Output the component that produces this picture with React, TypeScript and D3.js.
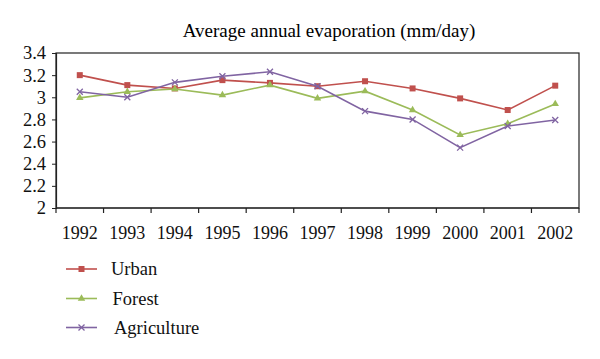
import * as d3 from 'd3';
import React, { useRef, useEffect } from 'react';

const years = ['1992', '1993', '1994', '1995', '1996', '1997', '1998', '1999', '2000', '2001', '2002'];
const urban = [3.2, 3.11, 3.08, 3.155, 3.13, 3.1, 3.145, 3.08, 2.99, 2.885, 3.105];
const forest = [2.995, 3.05, 3.075, 3.02, 3.11, 2.99, 3.055, 2.885, 2.66, 2.76, 2.94];
const agriculture = [3.05, 3.0, 3.135, 3.19, 3.23, 3.1, 2.875, 2.8, 2.545, 2.74, 2.795];
const yTicks = [2, 2.2, 2.4, 2.6, 2.8, 3, 3.2, 3.4];
const seriesNames = ['Urban', 'Forest', 'Agriculture'];

const font = '"Liberation Serif", "DejaVu Serif", serif';

function App() {
  const ref = useRef<SVGSVGElement>(null);

  useEffect(() => {
    const width = 600;
    const height = 359;
    const margin = { top: 53, right: 21, bottom: 151, left: 56 };

    const svg = d3.select(ref.current);
    svg.selectAll('*').remove();

    const series = [
      { name: seriesNames[0], values: urban, color: '#c0504d', marker: 'square' },
      { name: seriesNames[1], values: forest, color: '#9bbb59', marker: 'triangle' },
      { name: seriesNames[2], values: agriculture, color: '#8064a2', marker: 'cross' },
    ];

    const x = d3.scaleBand().domain(years).range([margin.left, width - margin.right]);
    const y = d3.scaleLinear().domain([2, 3.4]).range([height - margin.bottom, margin.top]);

    svg.append('rect').attr('width', width).attr('height', height).attr('fill', '#fff');

    // title
    svg.append('text')
      .attr('x', 329).attr('y', 37)
      .attr('text-anchor', 'middle')
      .attr('font-family', font).attr('font-size', 19)
      .text('Average annual evaporation (mm/day)');

    // plot box
    svg.append('rect')
      .attr('x', margin.left).attr('y', margin.top)
      .attr('width', width - margin.left - margin.right)
      .attr('height', height - margin.top - margin.bottom)
      .attr('fill', 'none').attr('stroke', '#222').attr('stroke-width', 1.2);

    // y axis
    const ya = svg.append('g').attr('transform', `translate(${margin.left},0)`)
      .call(d3.axisLeft(y).tickValues(yTicks).tickSize(4).tickPadding(6).tickFormat(d3.format('')));
    ya.select('.domain').attr('stroke', '#222').attr('stroke-width', 1.2);
    ya.selectAll('line').attr('stroke', '#222');
    ya.selectAll('text').attr('font-family', font).attr('font-size', 18.5).attr('fill', '#111');

    // x axis: ticks at category boundaries
    const xa = svg.append('g').attr('transform', `translate(0,${height - margin.bottom})`);
    xa.append('line')
      .attr('x1', margin.left).attr('x2', width - margin.right)
      .attr('stroke', '#222').attr('stroke-width', 1.2);
    const bounds = years.map(d => x(d)!).concat([width - margin.right]);
    xa.selectAll('line.tk').data(bounds).enter().append('line')
      .attr('class', 'tk')
      .attr('x1', d => d).attr('x2', d => d)
      .attr('y1', 0).attr('y2', 5)
      .attr('stroke', '#222').attr('stroke-width', 1.2);
    xa.selectAll('text').data(years).enter().append('text')
      .attr('x', d => x(d)! + x.bandwidth() / 2)
      .attr('y', 31)
      .attr('text-anchor', 'middle')
      .attr('font-family', font).attr('font-size', 18).attr('fill', '#111')
      .text(d => d);

    const cx = (i: number) => x(years[i])! + x.bandwidth() / 2;

    const drawMarker = (g: any, kind: string, px: number, py: number, color: string) => {
      if (kind === 'square') {
        g.append('rect').attr('x', px - 3).attr('y', py - 3).attr('width', 6).attr('height', 6).attr('fill', color);
      } else if (kind === 'triangle') {
        g.append('path').attr('d', d3.symbol(d3.symbolTriangle, 24)()).attr('transform', `translate(${px},${py})`).attr('fill', color);
      } else {
        g.append('path').attr('d', `M${px - 3},${py - 3}L${px + 3},${py + 3}M${px - 3},${py + 3}L${px + 3},${py - 3}`)
          .attr('stroke', color).attr('stroke-width', 1.3);
      }
    };

    const line = d3.line<number>().x((d, i) => cx(i)).y(d => y(d));

    series.forEach(s => {
      const g = svg.append('g');
      g.append('path').attr('d', line(s.values)).attr('fill', 'none')
        .attr('stroke', s.color).attr('stroke-width', 1.6);
      s.values.forEach((v, i) => drawMarker(g, s.marker, cx(i), y(v), s.color));
    });

    // legend
    const legY = [269, 298.5, 327.5];
    series.forEach((s, i) => {
      const g = svg.append('g');
      g.append('line').attr('x1', 66).attr('x2', 97).attr('y1', legY[i]).attr('y2', legY[i])
        .attr('stroke', s.color).attr('stroke-width', 1.6);
      drawMarker(g, s.marker, 81.5, legY[i], s.color);
      g.append('text').attr('x', 111 + i * 1.5).attr('y', legY[i]).attr('dy', '0.35em')
        .attr('font-family', font).attr('font-size', 18.5).attr('fill', '#111')
        .text(s.name);
    });
  }, []);

  return (
    <div>
      <svg ref={ref} width={600} height={359} style={{ position: 'absolute', left: 0, top: 0 }}></svg>
    </div>
  );
}

export default App;
